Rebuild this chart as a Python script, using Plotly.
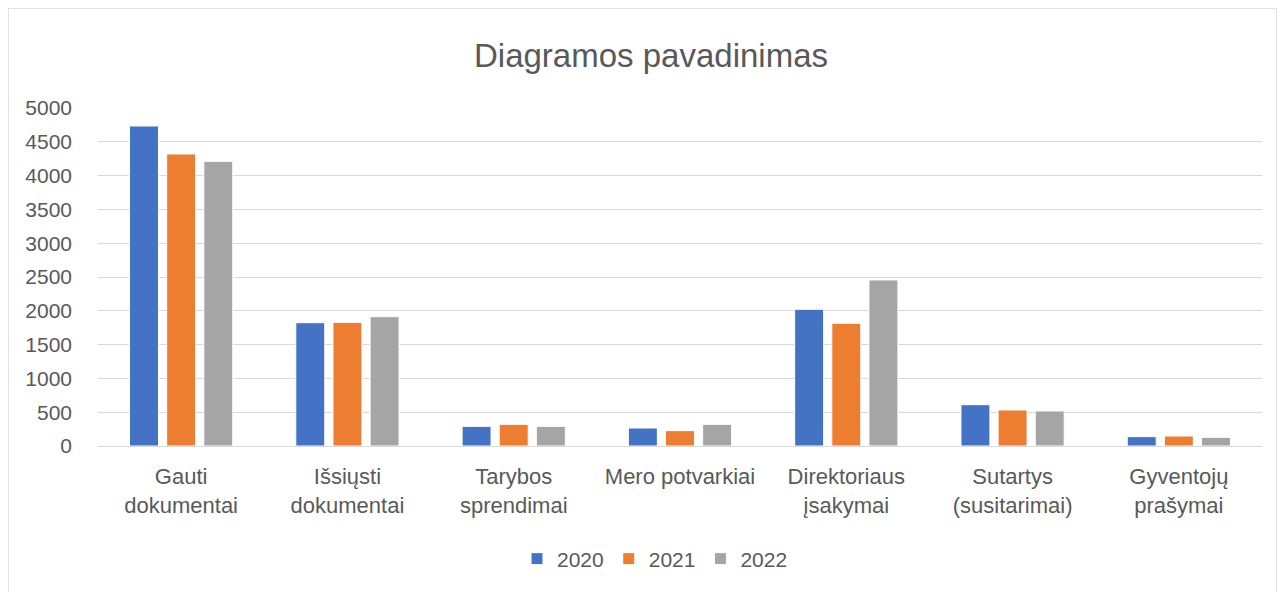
import plotly.graph_objects as go

categories = ["Gauti<br>dokumentai", "Išsiųsti<br>dokumentai", "Tarybos<br>sprendimai",
              "Mero potvarkiai", "Direktoriaus<br>įsakymai", "Sutartys<br>(susitarimai)",
              "Gyventojų<br>prašymai"]
years = ["2020", "2021", "2022"]
v2020 = [4734, 1824, 291, 266, 2022, 611, 138]
v2021 = [4320, 1829, 321, 227, 1815, 533, 148]
v2022 = [4211, 1913, 291, 321, 2456, 518, 128]
colors = ["#4472C4", "#ED7D31", "#A5A5A5"]

fig = go.Figure()
for name, vals, c in zip(years, [v2020, v2021, v2022], colors):
    fig.add_trace(go.Bar(x=categories, y=vals, name=name,
                         marker=dict(color=c, line=dict(color="white", width=1))))

FONT = "Liberation Sans, Arial, sans-serif"
OFF = 8  # page body margin
W, H = 1285 - OFF, 592 - OFF
L, R, T, B = 98 - OFF, 23, 108 - OFF, 146
pw, ph = W - L - R, H - T - B


def px_x(x):  # page pixel -> paper x
    return (x - 98) / pw


def px_y(y):  # page pixel -> paper y
    return (446 - y) / ph


fig.update_layout(
    width=W, height=H,
    margin=dict(l=L, r=R, t=T, b=B),
    paper_bgcolor="white", plot_bgcolor="white",
    barmode="group", bargap=0.33, bargroupgap=0.22,
    title=dict(text="Diagramos pavadinimas", x=(651 - OFF) / W, xanchor="center",
               y=1 - (55 - OFF) / H, yanchor="middle",
               font=dict(family=FONT, size=33, color="#595959")),
    font=dict(family=FONT, size=21, color="#595959"),
    legend=dict(orientation="h", x=px_x(655), xanchor="center",
                y=px_y(559), yanchor="middle",
                font=dict(size=21, color="#595959"), itemwidth=30,
                traceorder="normal"),
    xaxis=dict(showline=False, ticks="", ticklabelstandoff=15,
               tickfont=dict(size=22, color="#595959")),
    yaxis=dict(range=[0, 5000], dtick=500, showgrid=True, gridcolor="#D9D9D9",
               gridwidth=1, zeroline=True, zerolinecolor="#D9D9D9", zerolinewidth=1,
               showline=False, ticks="", ticklabelstandoff=25,
               tickfont=dict(size=21, color="#595959")),
    shapes=[dict(type="rect", xref="paper", yref="paper",
                 x0=px_x(8), x1=px_x(1277),
                 y0=px_y(620), y1=px_y(8),
                 line=dict(color="#D9D9D9", width=1.5), fillcolor="rgba(0,0,0,0)",
                 layer="below")],
)

fig.write_html("out.html")
